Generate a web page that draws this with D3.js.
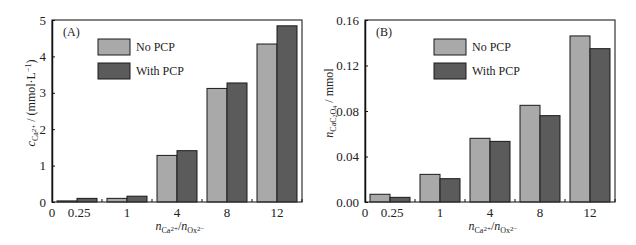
<!DOCTYPE html>
<html>
<head>
<meta charset="utf-8">
<script src="https://cdn.jsdelivr.net/npm/d3@7"></script>
<style>
  body { margin: 0; background: #fff; }
  svg text { font-family: "Times New Roman", "Liberation Serif", Times, serif; fill: #222; }
</style>
</head>
<body>
<svg id="chart" width="636" height="245"></svg>
<script>
var ratios = ["0.25", "1", "4", "8", "12"]
var seriesNames = ["No PCP", "With PCP"]
var concNoPCP = [0.03, 0.10, 1.28, 3.12, 4.34]
var concWithPCP = [0.10, 0.16, 1.41, 3.27, 4.84]
var amountNoPCP = [0.0068, 0.0243, 0.056, 0.085, 0.146]
var amountWithPCP = [0.0041, 0.0205, 0.0533, 0.0759, 0.1348]
var concTicks = [0, 1, 2, 3, 4, 5]
var amountTicks = [0, 0.04, 0.08, 0.12, 0.16]

var serif = "'Times New Roman', 'Liberation Serif', Times, serif"
var colors = ["#a9a9a9", "#5b5b5b"]
var innerW = 250, innerH = 182

var svg = d3.select("#chart")

function plot_panel(left, tag, noPCP, withPCP, yMax, yTicks, yFmt, yLabel, yLabelX){
    var g = svg.append("g").attr("transform", "translate(" + left + ",20)")
        .style("font-family", serif)

    var x = d3.scaleBand().domain(ratios).range([0, innerW]).paddingInner(0.2).paddingOuter(0.1)
    var xSub = d3.scaleBand().domain(seriesNames).range([0, x.bandwidth()])
    var y = d3.scaleLinear().domain([0, yMax]).range([innerH, 0])

    var rows = ratios.map(function(r, i){ return {ratio: r, vals: [noPCP[i], withPCP[i]]} })

    g.selectAll("g.grp")
        .data(rows)
        .enter()
        .append("g")
        .attr("transform", function(d){ return "translate(" + x(d.ratio) + ",0)" })
        .selectAll("rect")
        .data(function(d){ return d.vals.map(function(v, j){ return {s: seriesNames[j], v: v, j: j} }) })
        .enter()
        .append("rect")
        .attr("x", function(d){ return xSub(d.s) })
        .attr("y", function(d){ return y(d.v) })
        .attr("width", xSub.bandwidth())
        .attr("height", function(d){ return innerH - y(d.v) })
        .attr("fill", function(d){ return colors[d.j] })
        .attr("stroke", "#1a1a1a")
        .attr("stroke-width", 1)

    // frame
    g.append("rect")
        .attr("width", innerW).attr("height", innerH)
        .attr("fill", "none").attr("stroke", "#333").attr("stroke-width", 1.2)

    // y axis
    var ya = g.append("g")
        .call(d3.axisLeft(y).tickValues(yTicks).tickFormat(d3.format(yFmt)).tickSizeInner(-3).tickSizeOuter(0).tickPadding(6))
    ya.attr("font-family", null).attr("font-size", 13)
    ya.select(".domain").attr("stroke", "#111").attr("stroke-width", 1.5)
    ya.selectAll("text").attr("fill", "#222").style("font-family", serif)
    ya.selectAll("line").attr("stroke", "#111")

    // x axis: boundaries between groups as inward ticks
    var bounds = d3.range(1, ratios.length + 1).map(function(i){ return x.step() * i })
    g.selectAll("line.xt")
        .data(bounds)
        .enter()
        .append("line")
        .attr("x1", function(d){ return d }).attr("x2", function(d){ return d })
        .attr("y1", innerH).attr("y2", innerH - 3)
        .attr("stroke", "#111")

    var xl = ["0"].concat(ratios)
    g.selectAll("text.xl")
        .data(xl)
        .enter()
        .append("text")
        .attr("x", function(d, i){ return i == 0 ? 0 : x(d) + x.bandwidth() / 2 + (d == "0.25" ? 2 : 0) })
        .attr("y", innerH + 15)
        .attr("text-anchor", "middle")
        .attr("font-size", "13px")
        .text(function(d){ return d })

    // x label
    var xt = g.append("text")
        .attr("x", 128).attr("y", innerH + 28)
        .attr("text-anchor", "middle")
        .attr("font-size", "12px")
    xt.append("tspan").attr("font-style", "italic").text("n")
    xt.append("tspan").attr("font-size", "8px").attr("dy", 3).text("Ca")
    xt.append("tspan").attr("font-size", "7px").attr("dy", -2).text("2+")
    xt.append("tspan").attr("dy", -1).text("/")
    xt.append("tspan").attr("font-style", "italic").text("n")
    xt.append("tspan").attr("font-size", "8px").attr("dy", 3).text("Ox")
    xt.append("tspan").attr("font-size", "7px").attr("dy", -2).text("2\u2212")

    // y label
    yLabel(g.append("text")
        .attr("transform", "translate(" + yLabelX + "," + (innerH / 2 - 8) + ") rotate(-90)")
        .attr("text-anchor", "middle")
        .attr("font-size", "12px"))

    // panel tag
    g.append("text").attr("x", 11).attr("y", 16).attr("font-size", "12px").text(tag)

    // legend
    var lg = g.append("g").attr("transform", "translate(" + (left < 300 ? 46 : 69) + ",19)")
    seriesNames.forEach(function(s, i){
        lg.append("rect")
            .attr("x", 0).attr("y", i * 24)
            .attr("width", 32).attr("height", 16)
            .attr("fill", colors[i]).attr("stroke", "#1a1a1a").attr("stroke-width", 1)
        lg.append("text")
            .attr("x", 38).attr("y", i * 24 + 12)
            .attr("font-size", "12px")
            .text(s)
    })
}

plot_panel(52, "(A)", concNoPCP, concWithPCP, 5, concTicks, "d", function(t){
    t.append("tspan").attr("font-style", "italic").text("c")
    t.append("tspan").attr("font-size", "8px").attr("dy", 3).text("Ca")
    t.append("tspan").attr("font-size", "7px").attr("dy", -2).text("2+")
    t.append("tspan").attr("dy", -1).text(" / (mmol\u00b7L")
    t.append("tspan").attr("font-size", "8px").attr("dy", -4).text("\u22121")
    t.append("tspan").attr("dy", 4).text(")")
}, -17)

plot_panel(365, "(B)", amountNoPCP, amountWithPCP, 0.16, amountTicks, ".2f", function(t){
    t.append("tspan").attr("font-style", "italic").text("n")
    t.append("tspan").attr("font-size", "8px").attr("dy", 3).text("CaC")
    t.append("tspan").attr("font-size", "6px").attr("dy", 1).text("2")
    t.append("tspan").attr("font-size", "8px").attr("dy", -1).text("O")
    t.append("tspan").attr("font-size", "6px").attr("dy", 1).text("4")
    t.append("tspan").attr("dy", -4).text(" / mmol")
}, -32)
</script>
</body>
</html>
